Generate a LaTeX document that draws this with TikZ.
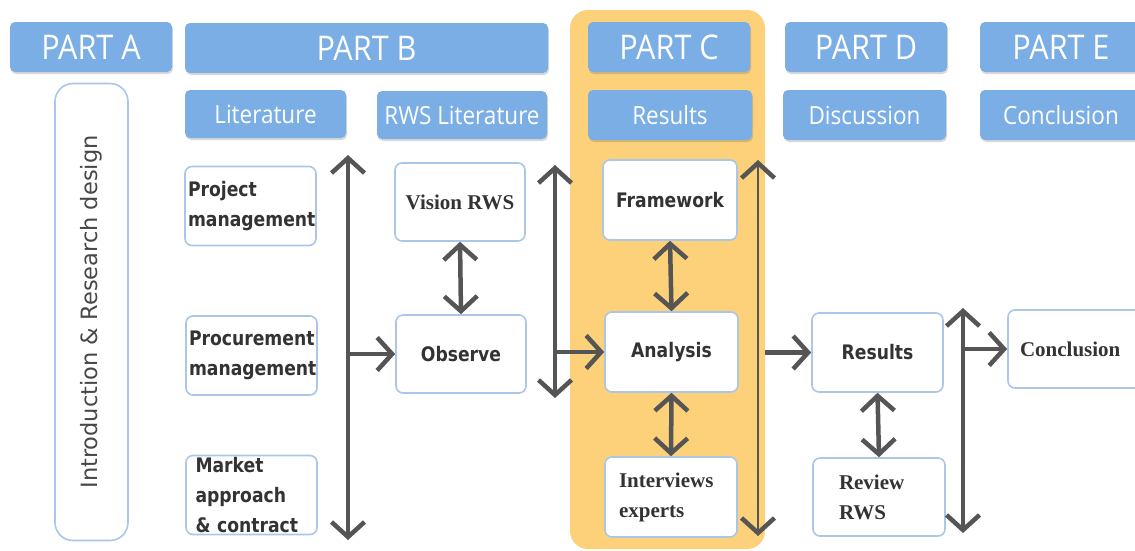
\documentclass[tikz,border=0pt]{standalone}
\usepackage{fontspec}
\usetikzlibrary{arrows.meta,shadows}

\newfontfamily\hdrfont[FakeStretch=0.9]{Open Sans}
\newfontfamily\boxfont[FakeStretch=0.86]{DejaVu Sans}
\newfontfamily\serifbox{Liberation Serif}
\newfontfamily\introfont{DejaVu Sans}

\definecolor{hdrblue}{HTML}{7AAEE5}
\definecolor{phaseorange}{HTML}{FDD07A}
\definecolor{edgeblue}{HTML}{AAC6E8}
\definecolor{arrowgray}{HTML}{555555}
\definecolor{inkgray}{HTML}{333333}

\tikzset{
  hdr/.style={fill=hdrblue, rounded corners=5pt, text=white, inner sep=0pt,
    drop shadow={shadow xshift=1pt, shadow yshift=-2pt, opacity=0.25, fill=black!60}},
  bighdr/.style={hdr, font=\hdrfont\fontsize{34}{40}\selectfont, minimum height=50pt},
  subhdr/.style={hdr, font=\hdrfont\fontsize{25}{30}\selectfont, minimum height=48pt},
  stage/.style={draw=edgeblue, line width=1.6pt, fill=white, rounded corners=7pt,
    inner sep=0pt, minimum width=131pt, minimum height=79pt, text=inkgray},
  sanslbl/.style={font=\boxfont\bfseries\fontsize{20}{30}\selectfont},
  seriflbl/.style={font=\serifbox\bfseries\fontsize{21}{30}\selectfont},
  phase/.style={fill=phaseorange, rounded corners=18pt, inner sep=0pt},
  barb/.tip={Straight Barb[length=15pt,width=33pt,line width=4.5pt]},
  link/.style={draw=arrowgray, line width=4.5pt, -barb},
  twoway/.style={draw=arrowgray, line width=4.5pt, barb-barb},
}

\begin{document}
\begin{tikzpicture}[x=1pt,y=-1pt]
\useasboundingbox (0,0) rectangle (1135,550);

% highlighted phase C
\node[phase, minimum width=195pt, minimum height=539pt] (phaseC) at (667.5,279.5) {};

% part headers
\node[bighdr, minimum width=162pt] (partA) at (91,47) {PART A};
\node[bighdr, minimum width=363pt] (partB) at (366.5,48) {PART B};
\node[bighdr, minimum width=162pt] (partC) at (669,47) {PART C};
\node[bighdr, minimum width=162pt] (partD) at (866,47) {PART D};
\node[bighdr, minimum width=162pt] (partE) at (1061,47) {PART E};

% sub headers
\node[subhdr, minimum width=161pt] (lit) at (265.5,114) {Literature};
\node[subhdr, minimum width=170pt] (rwslit) at (462,115) {RWS Literature};
\node[subhdr, minimum width=164pt, minimum height=50pt] (resC) at (670,115) {Results};
\node[subhdr, minimum width=163pt, minimum height=50pt] (disc) at (864.5,115) {Discussion};
\node[subhdr, minimum width=162pt, minimum height=50pt] (conclhdr) at (1061,115) {Conclusion};

% part A
\node[stage, rotate=90, minimum width=457pt, minimum height=73pt, rounded corners=18pt,
  font=\introfont\fontsize{22.5}{27}\selectfont, text=inkgray!90] (intro) at (91.5,312)
  {Introduction \& Research design};

% part B: literature
\node[stage, sanslbl, text width=125pt, align=left, inner xsep=3pt] (pm) at (250.5,206) {Project\\management};
\node[stage, sanslbl, text width=125pt, align=left, inner xsep=3pt] (proc) at (251.5,355.5) {Procurement\\management};
\node[stage, sanslbl, text width=112pt, align=left] (market) at (251.5,495) {Market\\approach\\\& contract};

% part B: RWS literature
\node[stage, seriflbl, minimum width=130pt, minimum height=78pt] (vision) at (460,202) {Vision RWS};
\node[stage, sanslbl, minimum width=130pt, minimum height=78pt] (observe) at (461,354) {Observe};

% part C
\node[stage, sanslbl, minimum width=134pt, minimum height=80pt] (framework) at (670,200) {Framework};
\node[stage, sanslbl, minimum width=133pt, minimum height=80pt] (analysis) at (671.5,352) {Analysis};
\node[stage, seriflbl, minimum width=132pt, minimum height=80pt, text width=104pt, align=left] (interviews) at (671,497) {Interviews\\experts};

% part D
\node[stage, sanslbl] (results) at (877.5,352.5) {Results};
\node[stage, seriflbl, minimum width=132pt, minimum height=78pt, text width=80pt, align=left] (review) at (879,497) {Review\\RWS};

% part E
\node[stage, minimum width=144pt, minimum height=78pt, text width=120pt, align=left,
  font=\serifbox\bfseries\fontsize{21}{25}\selectfont] (conclusion) at (1080,349) {Conclusion};

% vertical bars
\coordinate (barBtop) at (348,155);
\coordinate (barBbot) at (348,540);
\coordinate (barRtop) at (555,165);
\coordinate (barRbot) at (555,398);
\coordinate (barCtop) at (758,160);
\coordinate (barCbot) at (758,536);
\coordinate (barDtop) at (963,308);
\coordinate (barDbot) at (963,533);

\draw[twoway] (barBtop) -- (barBbot);
\draw[twoway] (barRtop) -- (barRbot);
\draw[twoway, line width=2.8pt] (barCtop) -- (barCbot);
\draw[twoway] (barDtop) -- (barDbot);

% flow between the parts
\draw[link] (observe.west -| barBtop) -- (observe.west);
\draw[link] (analysis.west -| barRtop) -- (analysis.west);
\draw[link] (results.west -| phaseC.east) -- (results.west);
\draw[link] (conclusion.west -| barDtop) -- (conclusion.west);

% links inside the parts
\draw[twoway] (vision.south) -- (observe.north);
\draw[twoway] (framework.south) -- (analysis.north);
\draw[twoway] (analysis.south) -- (interviews.north);
\draw[twoway] (results.south) -- (review.north);
\end{tikzpicture}
\end{document}
